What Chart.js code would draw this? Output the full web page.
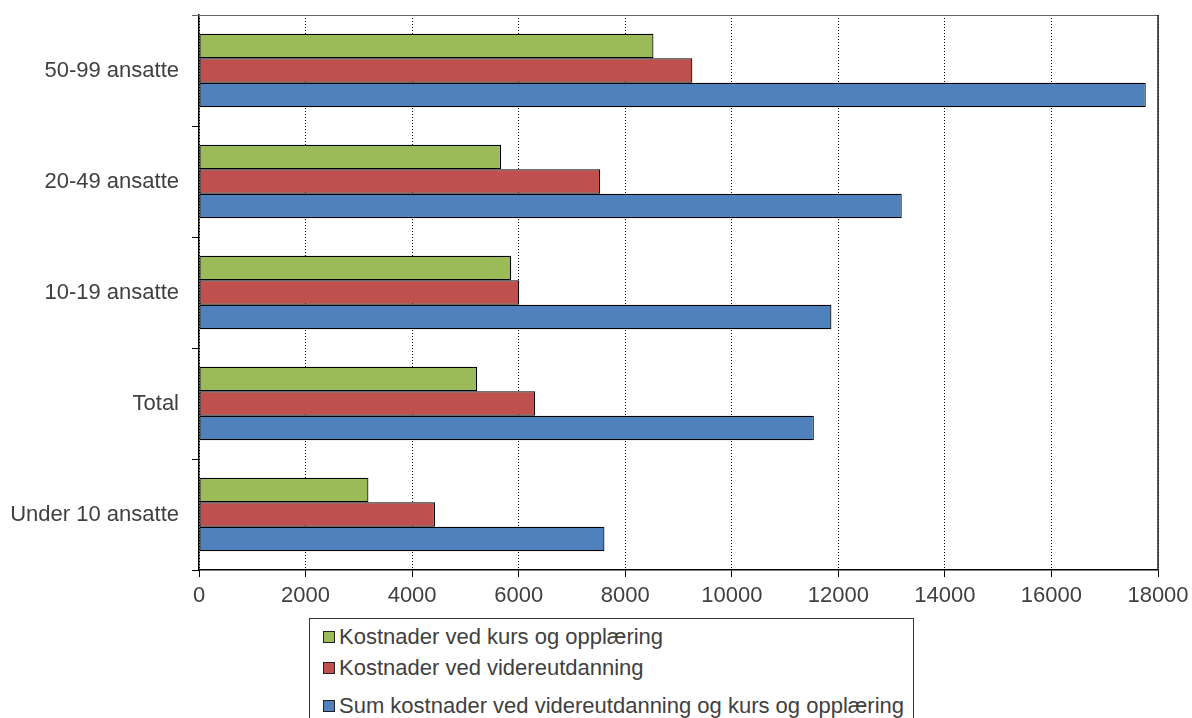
<!DOCTYPE html>
<html>
<head>
<meta charset="utf-8">
<script src="https://cdn.jsdelivr.net/npm/chart.js@4"></script>
<style>
  html, body { margin: 0; padding: 0; background: #ffffff; }
  #wrap { position: relative; width: 1192px; height: 718px; overflow: hidden; }
  #chart { position: absolute; left: 0; top: 0; }
  #legend {
    position: absolute; left: 309px; top: 618px; width: 605px; height: 120px;
    border: 1px solid #333333; box-sizing: border-box; background: #fff;
    font-family: "Liberation Sans", Arial, sans-serif; font-size: 22px; color: #404040;
  }
  .item { position: absolute; left: 13px; height: 26px; line-height: 26px; white-space: nowrap; }
  .sw { display: inline-block; width: 10px; height: 10px; border: 1px solid #222; margin-right: 4px; vertical-align: 1px; }
</style>
</head>
<body>
<div id="wrap">
  <canvas id="chart" width="1192" height="718"></canvas>
  <div id="legend"></div>
</div>
<script>
const categories = ['50-99 ansatte', '20-49 ansatte', '10-19 ansatte', 'Total', 'Under 10 ansatte'];
const seriesNames = [
  'Kostnader ved kurs og opplæring',
  'Kostnader ved videreutdanning',
  'Sum kostnader ved videreutdanning og kurs og opplæring'
];
const kursOpplaering = [8530, 5670, 5860, 5220, 3180];
const videreutdanning = [9260, 7530, 6010, 6310, 4430];
const sumKostnader = [17770, 13190, 11870, 11540, 7610];
const xTicks = [0, 2000, 4000, 6000, 8000, 10000, 12000, 14000, 16000, 18000];

const colors = ['#9BBB59', '#C0504D', '#4F81BD'];
const seriesValues = [kursOpplaering, videreutdanning, sumKostnader];
const FONT = '"Liberation Sans", Arial, sans-serif';

// Frame: grey top edge and dark right edge of the plot area
const framePlugin = {
  id: 'frame',
  afterDraw(chart) {
    const { ctx, chartArea: a } = chart;
    ctx.save();
    ctx.lineWidth = 1;
    ctx.strokeStyle = '#666666';
    ctx.beginPath();
    ctx.moveTo(a.left - 7, a.top + 0.5);
    ctx.lineTo(a.right, a.top + 0.5);
    ctx.stroke();
    ctx.strokeStyle = '#222222';
    ctx.lineWidth = 1.5;
    ctx.beginPath();
    ctx.moveTo(a.right, a.top);
    ctx.lineTo(a.right, a.bottom);
    ctx.stroke();
    ctx.restore();
  }
};

new Chart(document.getElementById('chart'), {
  type: 'bar',
  data: {
    labels: categories,
    datasets: seriesNames.map((name, i) => ({
      label: name,
      data: seriesValues[i],
      backgroundColor: colors[i],
      borderColor: '#000000',
      borderWidth: 1.2,
      borderSkipped: false,
      barPercentage: 1.0,
      categoryPercentage: 0.66
    }))
  },
  options: {
    indexAxis: 'y',
    responsive: false,
    animation: false,
    layout: { padding: { top: 15, right: 34, left: 0, bottom: 0 } },
    plugins: {
      legend: { display: false },
      tooltip: { enabled: false }
    },
    scales: {
      x: {
        min: 0,
        max: 18000,
        afterBuildTicks(scale) { scale.ticks = xTicks.map(v => ({ value: v })); },
        afterFit(scale) {
          scale.height = 148;
          scale.paddingLeft = 0;
          scale.paddingRight = 0;
        },
        grid: {
          color: '#000000',
          lineWidth: 1,
          drawOnChartArea: true,
          tickLength: 7,
          tickColor: '#000000',
          tickBorderDash: []
        },
        border: { display: true, color: '#000000', width: 1.5, dash: [1, 2] },
        ticks: {
          color: '#404040',
          font: { family: FONT, size: 22 },
          padding: 6,
          maxRotation: 0,
          autoSkip: false,
          callback: (v) => String(v)
        }
      },
      y: {
        afterFit(scale) {
          scale.width = 199;
          scale.paddingTop = 0;
          scale.paddingBottom = 0;
        },
        grid: {
          drawOnChartArea: false,
          color: '#000000',
          tickLength: 7,
          offset: true
        },
        border: { display: true, color: '#000000', width: 1.5 },
        ticks: {
          color: '#404040',
          font: { family: FONT, size: 22 },
          padding: 13
        }
      }
    }
  },
  plugins: [framePlugin]
});

// Legend box below the chart, one series per row
const legend = document.getElementById('legend');
const rowTops = [5, 36, 74];
seriesNames.forEach((name, i) => {
  const d = document.createElement('div');
  d.className = 'item';
  d.style.top = rowTops[i] + 'px';
  const sw = document.createElement('span');
  sw.className = 'sw';
  sw.style.background = colors[i];
  d.appendChild(sw);
  d.appendChild(document.createTextNode(name));
  legend.appendChild(d);
});
</script>
</body>
</html>
